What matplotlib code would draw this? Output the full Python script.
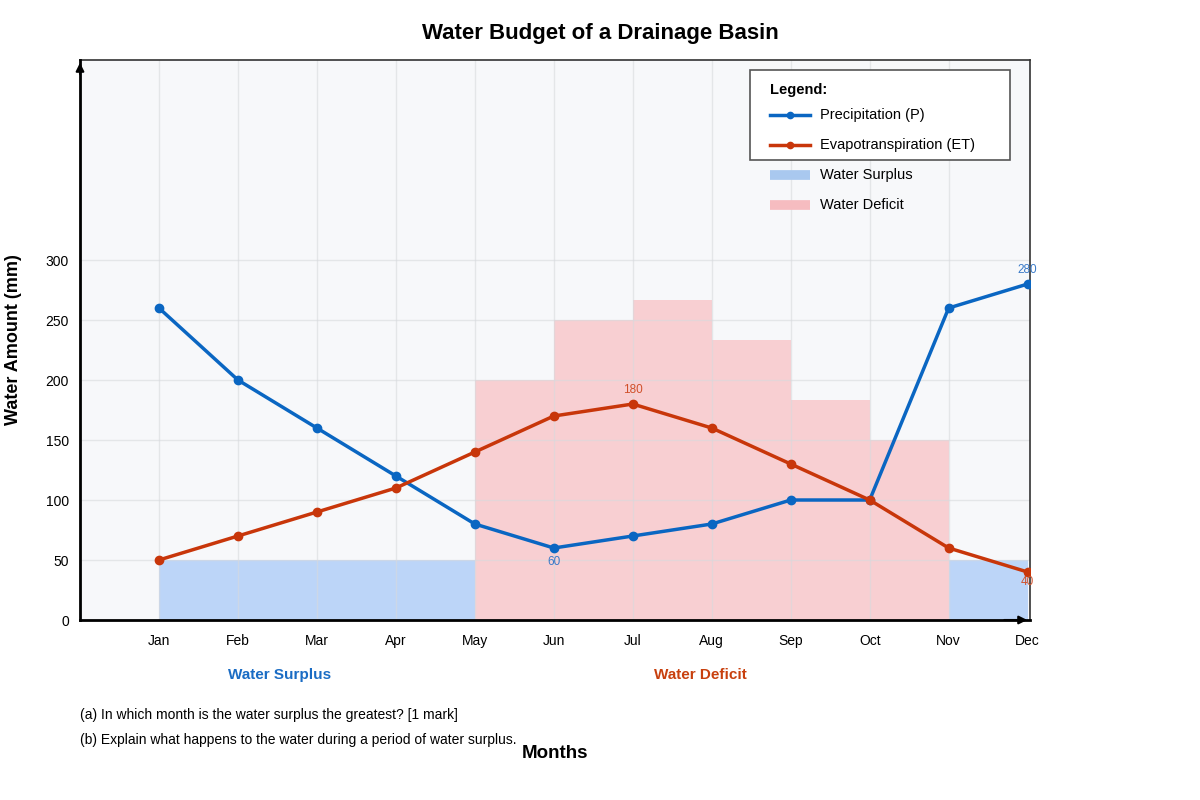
import matplotlib
matplotlib.use("Agg")
import matplotlib.pyplot as plt
from matplotlib.patches import Rectangle
from matplotlib.lines import Line2D

plt.rcParams['font.family'] = ['Liberation Sans', 'DejaVu Sans']

months = ['Jan', 'Feb', 'Mar', 'Apr', 'May', 'Jun', 'Jul', 'Aug', 'Sep', 'Oct', 'Nov', 'Dec']
precip = [260, 200, 160, 120, 80, 60, 70, 80, 100, 100, 260, 280]
evapo = [50, 70, 90, 110, 140, 170, 180, 160, 130, 100, 60, 40]
surplus_start = [1, 2, 3, 4, 11]
surplus_vals = [50, 50, 50, 50, 50]
deficit_start = [5, 6, 7, 8, 9, 10]
deficit_vals = [200, 250, 266.7, 233.3, 183.3, 150]
yticks = [0, 50, 100, 150, 200, 250, 300]

P_COL = '#0a66c2'
ET_COL = '#c8360a'

W, H = 1200, 800
fig = plt.figure(figsize=(12, 8), dpi=100)
ax = fig.add_axes([80 / W, 1 - 620 / H, 950 / W, 560 / H])
ax.set_facecolor('#f7f8fa')

x = list(range(1, 13))
ax.set_xlim(0, 12.03)
ax.set_ylim(0, 466.7)

ax.bar(surplus_start, surplus_vals, width=1, align='edge', color='#bcd5f8', zorder=1, linewidth=0)
ax.bar(deficit_start, deficit_vals, width=1, align='edge', color='#f8cfd2', zorder=1, linewidth=0)

# grid
for xi in x[:-1]:
    ax.axvline(xi, color='#d8dadd', lw=1, alpha=0.6, zorder=2)
for yt in yticks[1:]:
    ax.axhline(yt, color='#d8dadd', lw=1, alpha=0.6, zorder=2)

ax.plot(x, precip, color=P_COL, lw=2.5, marker='o', ms=6, zorder=4)
ax.plot(x, evapo, color=ET_COL, lw=2.5, marker='o', ms=6, zorder=4)

ax.annotate('60', (6, 60), xytext=(0, -10), textcoords='offset points', ha='center', va='center',
            fontsize=8.5, color='#3a7ac8', zorder=5)
ax.annotate('180', (7, 180), xytext=(0, 10), textcoords='offset points', ha='center', va='center',
            fontsize=8.5, color='#d0502a', zorder=5)
ax.annotate('280', (12, 280), xytext=(0, 10), textcoords='offset points', ha='center', va='center',
            fontsize=8.5, color='#3a7ac8', zorder=5)
ax.annotate('40', (12, 40), xytext=(0, -7), textcoords='offset points', ha='center', va='center',
            fontsize=8.5, color='#d0502a', zorder=5)

ax.set_xticks(x)
ax.set_xticklabels(months, fontsize=10)
ax.set_yticks(yticks)
ax.set_yticklabels([str(v) for v in yticks], fontsize=10)
ax.tick_params(axis='both', length=0)
ax.tick_params(axis='x', pad=10)
ax.tick_params(axis='y', pad=8)

for s in ['top', 'right']:
    ax.spines[s].set_color('#333333')
    ax.spines[s].set_linewidth(1.2)
for s in ['left', 'bottom']:
    ax.spines[s].set_color('black')
    ax.spines[s].set_linewidth(2)
ax.spines['left'].set_zorder(6)
ax.spines['bottom'].set_zorder(6)

# arrows
ax.annotate('', xy=(0, 1.0), xycoords='axes fraction', xytext=(0, 0.97),
            arrowprops=dict(arrowstyle='-|>', color='black', lw=1.5, mutation_scale=12), zorder=7)
ax.annotate('', xy=(1.0, 0), xycoords='axes fraction', xytext=(0.97, 0),
            arrowprops=dict(arrowstyle='-|>', color='black', lw=1.5, mutation_scale=12), zorder=7)

def fx(px):
    return px / W

def fy(py):
    return 1 - py / H

# legend (manual)
fig.add_artist(Rectangle((fx(750), fy(160)), 260 / W, 90 / H, transform=fig.transFigure,
                         facecolor='white', edgecolor='#555555', lw=1.2, zorder=10))
fig.text(fx(770), fy(90), 'Legend:', fontsize=10.5, fontweight='bold', va='center', ha='left', zorder=11)
legend_items = [('Precipitation (P)', 'line', P_COL, 115),
                ('Evapotranspiration (ET)', 'line', ET_COL, 145),
                ('Water Surplus', 'patch', '#a9c8ef', 175),
                ('Water Deficit', 'patch', '#f6bcc0', 205)]
for label, kind, col, py in legend_items:
    if kind == 'line':
        fig.add_artist(Line2D([fx(770), fx(810)], [fy(py), fy(py)], color=col, lw=2.5,
                              transform=fig.transFigure, zorder=11))
        fig.add_artist(Line2D([fx(790)], [fy(py)], color=col, marker='o', ms=4.5,
                              transform=fig.transFigure, zorder=12))
    else:
        fig.add_artist(Line2D([fx(770), fx(810)], [fy(py), fy(py)], color=col, lw=7,
                              solid_capstyle='butt', transform=fig.transFigure, zorder=11))
    fig.text(fx(820), fy(py), label, fontsize=10.5, va='center', ha='left', zorder=11)

fig.text(0.5, fy(33), 'Water Budget of a Drainage Basin', fontsize=16, fontweight='bold',
         ha='center', va='center')
fig.text(fx(14), fy(340), 'Water Amount (mm)', fontsize=13, fontweight='bold', rotation=90,
         ha='center', va='center')
fig.text(fx(280), fy(675), 'Water Surplus', fontsize=11, fontweight='bold', color='#1a6cc4',
         ha='center', va='center')
fig.text(fx(700), fy(675), 'Water Deficit', fontsize=11, fontweight='bold', color='#c8400e',
         ha='center', va='center')
fig.text(fx(80), fy(715), '(a) In which month is the water surplus the greatest? [1 mark]',
         fontsize=10, ha='left', va='center')
fig.text(fx(80), fy(740), '(b) Explain what happens to the water during a period of water surplus.',
         fontsize=10, ha='left', va='center')
fig.text(fx(555), fy(754), 'Months', fontsize=13.5, fontweight='bold', ha='center', va='center')

fig.savefig('out.png', dpi=100, facecolor='white')
